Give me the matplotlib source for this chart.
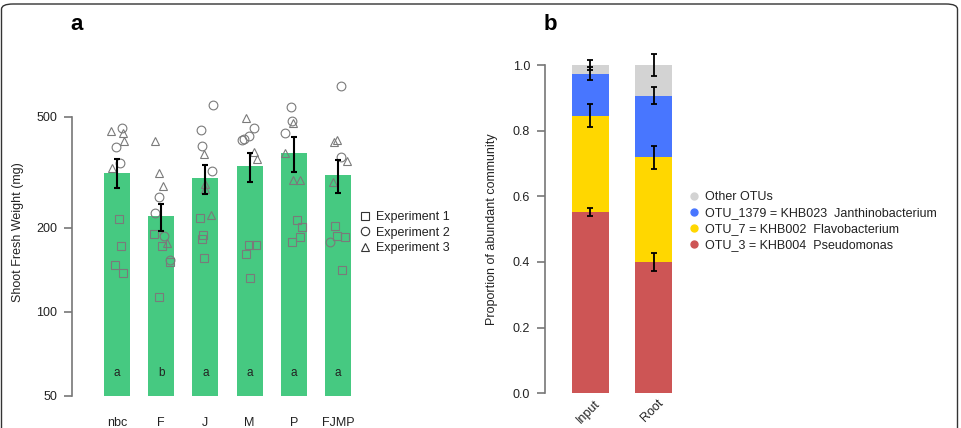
import matplotlib
matplotlib.use("Agg")
import matplotlib.pyplot as plt
from matplotlib.patches import FancyBboxPatch
from matplotlib.lines import Line2D
import numpy as np

plt.rcParams['font.family'] = ['Liberation Sans', 'DejaVu Sans']

# ---- panel a: shoot fresh weight ----
groups = ["nbc", "F", "J", "M", "P", "FJMP"]
means = [315, 220, 301, 334, 372, 310]
se_lo = [278, 195, 265, 293, 318, 268]
se_hi = [353, 244, 336, 370, 425, 350]
letters = ["a", "b", "a", "a", "a", "a"]

# individual plants per experiment (values, horizontal jitter in bar slots)
exp1_vals = [[215, 172, 147, 138], [190, 173, 151, 113], [217, 189, 182, 156],
             [162, 174, 174, 132], [214, 201, 185, 178], [204, 187, 185, 142]]
exp1_jit = [[0.05, 0.08, -0.04, 0.14], [-0.17, 0.01, 0.20, -0.05], [-0.13, -0.06, -0.07, -0.04],
            [-0.09, -0.02, 0.15, 0.01], [0.08, 0.19, 0.14, -0.04], [-0.07, -0.01, 0.16, 0.10]]
exp2_vals = [[457, 389, 341], [259, 227, 187, 153], [552, 449, 394, 319],
             [455, 428, 416, 412], [544, 485, 437], [646, 360, 178]]
exp2_jit = [[0.11, -0.02, 0.07], [-0.06, -0.15, 0.07, 0.19], [0.17, -0.11, -0.07, 0.15],
            [0.11, -0.02, -0.13, -0.17], [-0.06, -0.03, -0.19], [0.08, 0.07, -0.17]]
exp3_vals = [[444, 437, 411, 329], [411, 315, 284, 177], [368, 287, 276, 223],
             [495, 375, 353], [474, 371, 296, 296], [408, 414, 347, 293]]
exp3_jit = [[-0.14, 0.14, 0.16, -0.11], [-0.14, -0.05, 0.05, 0.13], [-0.04, -0.01, -0.01, 0.13],
            [-0.07, 0.11, 0.16], [-0.01, -0.19, -0.02, 0.15], [-0.09, -0.02, 0.20, -0.11]]

# ---- panel b: community composition ----
samples = ["Input", "Root"]
pseudomonas = [0.552, 0.400]
flavobacterium = [0.294, 0.319]
janthinobacterium = [0.127, 0.187]
other_otus = [0.027, 0.094]
err_pseudo = [0.012, 0.027]
err_flavo = [0.035, 0.035]
err_janth = [0.020, 0.026]
err_other = [0.016, 0.032]
otu_labels = ["Other OTUs", "OTU_1379 = KHB023  Janthinobacterium",
              "OTU_7 = KHB002  Flavobacterium", "OTU_3 = KHB004  Pseudomonas"]

green = "#46C981"
grey_pt = "#7a7a7a"
axis_col = "#777777"
txt = "#222222"
c_red, c_yel, c_blu, c_gry = "#CD5555", "#FFD700", "#4876FF", "#D3D3D3"

W, H = 961, 428
fig = plt.figure(figsize=(W / 100, H / 100), dpi=100)

# rounded frame around the figure
frame = FancyBboxPatch((1.5 / W, -20 / H), (956 / W), (H + 16) / H,
                       boxstyle="round,pad=0,rounding_size=0.012",
                       transform=fig.transFigure, fill=False,
                       edgecolor="#333333", linewidth=1.0)
fig.patches.append(frame)

# ================= panel a =================
ax = fig.add_axes([72 / W, (H - 396) / H, 288 / W, 336 / H])
ax.set_yscale("log")
ax.set_ylim(50, 800)
ax.set_xlim(-1.02, 5.5)
x = np.arange(len(groups))
ax.bar(x, np.array(means) - 50, bottom=50, width=0.59, color=green, linewidth=0, zorder=1)

for vals, jits, mk in [(exp1_vals, exp1_jit, "s"), (exp2_vals, exp2_jit, "o"), (exp3_vals, exp3_jit, "^")]:
    for i in range(len(groups)):
        ax.plot(i + np.array(jits[i]), vals[i], linestyle="none", marker=mk,
                markersize=6.3 if mk != "s" else 5.8, markerfacecolor="none",
                markeredgecolor=grey_pt, markeredgewidth=0.8, zorder=2)

m = np.array(means)
ax.errorbar(x, m, yerr=[m - np.array(se_lo), np.array(se_hi) - m], fmt="none",
            ecolor="black", elinewidth=1.5, capsize=2.5, capthick=1.5, zorder=3)

for i, lt in enumerate(letters):
    ax.text(i, 60.5, lt, ha="center", va="center", fontsize=8.5, color=txt, zorder=4)

for s in ["top", "right", "bottom"]:
    ax.spines[s].set_visible(False)
ax.spines["left"].set_bounds(50, 500)
ax.spines["left"].set_color(axis_col)
ax.spines["left"].set_linewidth(1.2)
ax.yaxis.set_minor_locator(matplotlib.ticker.NullLocator())
ax.set_yticks([50, 100, 200, 500])
ax.set_yticklabels(["50", "100", "200", "500"])
ax.tick_params(axis="y", length=5.8, width=1.2, color=axis_col, pad=5, labelsize=9, labelcolor=txt)
ax.set_xticks(x)
ax.set_xticklabels(groups)
ax.tick_params(axis="x", length=0, pad=15, labelsize=9, labelcolor=txt)
ax.patch.set_visible(False)
fig.text(18 / W, 1 - 232 / H, "Shoot Fresh Weight (mg)", rotation=90, ha="center", va="center",
         fontsize=9, color=txt)

handles_a = [Line2D([], [], linestyle="none", marker=mk, markersize=5.5 if mk == "s" else 6,
                    markerfacecolor="none", markeredgecolor="#333333", markeredgewidth=0.8)
             for mk in ["s", "o", "^"]]
fig.legend(handles_a, ["Experiment 1", "Experiment 2", "Experiment 3"],
           loc="upper left", bbox_to_anchor=(360 / W, 1 - 211 / H), frameon=False,
           fontsize=9, handlelength=0.8, handletextpad=0.5, labelspacing=0.3,
           borderpad=0, borderaxespad=0, labelcolor=txt)

fig.text(77 / W, 1 - 25 / H, "a", ha="center", va="center", fontsize=16, fontweight="bold")

# ================= panel b =================
bx = fig.add_axes([545 / W, (H - 393.3) / H, 135 / W, 343.3 / H])
bx.set_xlim(-0.713, 1.413)
bx.set_ylim(0, 1.0457)
xb = np.arange(len(samples))
bw = 0.583
b0 = np.zeros(2)
layers = [(pseudomonas, err_pseudo, c_red), (flavobacterium, err_flavo, c_yel),
          (janthinobacterium, err_janth, c_blu), (other_otus, err_other, c_gry)]
for vals, errs, col in layers:
    bx.bar(xb, vals, bottom=b0, width=bw, color=col, linewidth=0, zorder=1)
    b0 = b0 + np.array(vals)
    bx.errorbar(xb, b0, yerr=errs, fmt="none", ecolor="black", elinewidth=1.3,
                capsize=2.5, capthick=1.3, zorder=3)

for s in ["top", "right", "bottom"]:
    bx.spines[s].set_visible(False)
bx.spines["left"].set_bounds(0, 1)
bx.spines["left"].set_color(axis_col)
bx.spines["left"].set_linewidth(1.2)
bx.set_yticks([0, 0.2, 0.4, 0.6, 0.8, 1.0])
bx.set_yticklabels(["0.0", "0.2", "0.4", "0.6", "0.8", "1.0"])
bx.tick_params(axis="y", length=5.8, width=1.2, color=axis_col, pad=5, labelsize=9, labelcolor=txt)
bx.set_xticks(xb + 0.06)
bx.set_xticklabels(samples, rotation=45, ha="right", rotation_mode="anchor")
bx.tick_params(axis="x", length=0, pad=3, labelsize=9, labelcolor=txt)
bx.patch.set_visible(False)
fig.text(492 / W, 1 - 229 / H, "Proportion of abundant community", rotation=90,
         ha="center", va="center", fontsize=9, color=txt)

handles_b = [Line2D([], [], linestyle="none", marker="o", markersize=5, markerfacecolor=c,
                    markeredgecolor=c) for c in [c_gry, c_blu, c_yel, c_red]]
fig.legend(handles_b, otu_labels, loc="upper left", bbox_to_anchor=(689 / W, 1 - 191 / H),
           frameon=False, fontsize=9, handlelength=0.8, handletextpad=0.5, labelspacing=0.33,
           borderpad=0, borderaxespad=0, labelcolor=txt)

fig.text(550 / W, 1 - 25 / H, "b", ha="center", va="center", fontsize=16, fontweight="bold")

fig.savefig("out.png", dpi=100)
